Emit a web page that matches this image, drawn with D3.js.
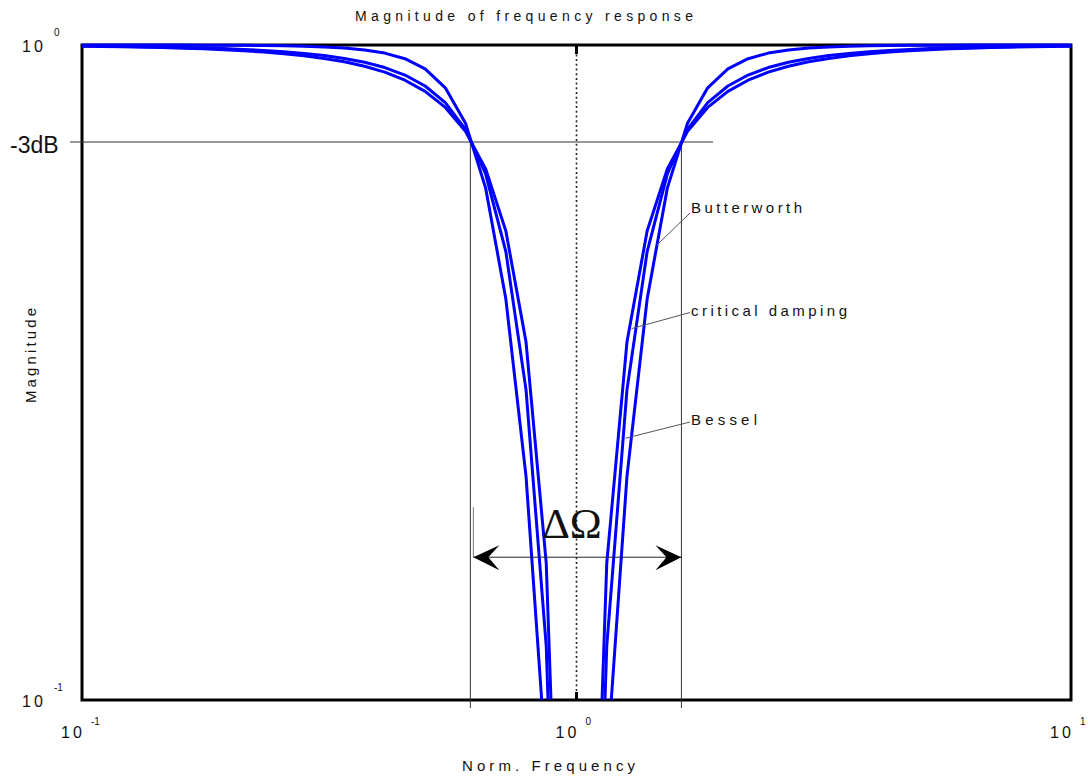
<!DOCTYPE html>
<html>
<head>
<meta charset="utf-8">
<script src="https://cdn.jsdelivr.net/npm/d3@7"></script>
<style>
  body { margin: 0; background: #fff; }
  text { font-family: Arial, "Liberation Sans", sans-serif; fill: #111; }
</style>
</head>
<body>
<svg id="chart" width="1088" height="776"></svg>
<script>
// normalised frequency samples (log spaced, 0.1 .. 10)
const freq = [0.1, 0.10985, 0.12068, 0.13257, 0.14563, 0.15999, 0.17575, 0.19307, 0.2121, 0.233,
  0.25595, 0.28118, 0.30888, 0.33932, 0.37276, 0.40949, 0.44984, 0.49417, 0.54287, 0.59636,
  0.65513, 0.71969, 0.7906, 0.86851, 0.9541, 1.04811, 1.1514, 1.26486, 1.38949, 1.52642,
  1.67684, 1.84207, 2.02359, 2.223, 2.44206, 2.68268, 2.94707, 3.2375, 3.55643, 3.90701,
  4.29185, 4.71475, 5.17947, 5.6899, 6.25039, 6.86672, 7.54318, 8.28638, 9.10332, 10];

const butterworth = [0.99995, 0.99992, 0.99989, 0.99983, 0.99976, 0.99964, 0.99946, 0.99919, 0.99879, 0.99816,
  0.9972, 0.99568, 0.99327, 0.98935, 0.98289, 0.97194, 0.95296, 0.9195, 0.86035, 0.75946,
  0.60464, 0.40933, 0.21944, 0.07977, 0.00884, 0.00884, 0.07977, 0.21944, 0.40933, 0.60464,
  0.75946, 0.86035, 0.9195, 0.95296, 0.97194, 0.98289, 0.98935, 0.99327, 0.99568, 0.9972,
  0.99816, 0.99879, 0.99919, 0.99946, 0.99964, 0.99976, 0.99983, 0.99989, 0.99992, 0.99995];

const criticalDamping = [0.99579, 0.99491, 0.99383, 0.99251, 0.99091, 0.98896, 0.98656, 0.98362, 0.97998, 0.97547,
  0.96986, 0.96282, 0.95393, 0.94258, 0.92797, 0.90887, 0.8836, 0.84956, 0.80295, 0.73811,
  0.64698, 0.51995, 0.35192, 0.16192, 0.02089, 0.02089, 0.16192, 0.35192, 0.51995, 0.64698,
  0.73811, 0.80295, 0.84956, 0.8836, 0.90887, 0.92797, 0.94258, 0.95393, 0.96282, 0.96986,
  0.97547, 0.97998, 0.98362, 0.98656, 0.98896, 0.99091, 0.99251, 0.99383, 0.99491, 0.99579];

const bessel = [0.99684, 0.99617, 0.99536, 0.99436, 0.99314, 0.99164, 0.98979, 0.9875, 0.98466, 0.98109,
  0.97659, 0.97086, 0.96348, 0.95383, 0.94104, 0.92372, 0.89977, 0.86581, 0.81645, 0.74337,
  0.63541, 0.48365, 0.29752, 0.12095, 0.0142, 0.0142, 0.12095, 0.29752, 0.48365, 0.63541,
  0.74337, 0.81645, 0.86581, 0.89977, 0.92372, 0.94104, 0.95383, 0.96348, 0.97086, 0.97659,
  0.98109, 0.98466, 0.9875, 0.98979, 0.99164, 0.99314, 0.99436, 0.99536, 0.99617, 0.99684];

const seriesNames = ["Butterworth", "critical damping", "Bessel"];
// point on each curve where the label's leader line ends [freq, magnitude]
const labelAnchors = [[1.454, 0.495], [1.293, 0.369], [1.257, 0.251]];

const bandEdges = [0.61, 1.63];
const minus3dB = 0.711;
const xTickValues = [0.1, 1, 10];
const xTickExp = ["-1", "0", "1"];
const yTickValues = [1, 0.1];
const yTickExp = ["0", "-1"];

const svg = d3.select("#chart");
const plot = {left: 82, right: 1071, top: 45, bottom: 700};

const x = d3.scaleLog().domain([0.1, 10]).range([plot.left, plot.right]);
const y = d3.scaleLog().domain([0.1, 1]).range([plot.bottom, plot.top]);

// frame
svg.append("rect")
  .attr("x", plot.left).attr("y", plot.top)
  .attr("width", plot.right - plot.left).attr("height", plot.bottom - plot.top)
  .attr("fill", "none").attr("stroke", "#000").attr("stroke-width", 3);

// -3dB guide and band edge lines
svg.append("line")
  .attr("x1", 70).attr("x2", 713)
  .attr("y1", y(minus3dB)).attr("y2", y(minus3dB))
  .attr("stroke", "#333").attr("stroke-width", 1);

svg.selectAll(".edge")
  .data(bandEdges)
  .join("line")
  .attr("class", "edge")
  .attr("x1", d => x(d)).attr("x2", d => x(d))
  .attr("y1", y(minus3dB)).attr("y2", plot.bottom + 8)
  .attr("stroke", "#333").attr("stroke-width", 1);

// centre frequency
svg.append("line")
  .attr("x1", x(1)).attr("x2", x(1))
  .attr("y1", plot.top).attr("y2", plot.bottom)
  .attr("stroke", "#222").attr("stroke-width", 1.6)
  .attr("stroke-dasharray", "2,2.7");
svg.append("line")
  .attr("x1", x(1)).attr("x2", x(1))
  .attr("y1", plot.top).attr("y2", plot.top + 9)
  .attr("stroke", "#000").attr("stroke-width", 3);
svg.append("line")
  .attr("x1", x(1)).attr("x2", x(1))
  .attr("y1", plot.bottom - 8).attr("y2", plot.bottom)
  .attr("stroke", "#000").attr("stroke-width", 3);

// curves
svg.append("clipPath").attr("id", "plotClip")
  .append("rect")
  .attr("x", plot.left - 2).attr("y", plot.top - 4)
  .attr("width", plot.right - plot.left + 3).attr("height", plot.bottom - plot.top + 3.5);

const line = d3.line()
  .x((d, i) => x(freq[i]))
  .y(d => y(d));

svg.append("g")
  .attr("clip-path", "url(#plotClip)")
  .selectAll("path")
  .data([butterworth, criticalDamping, bessel])
  .join("path")
  .attr("d", line)
  .attr("fill", "none")
  .attr("stroke", "#0000ff")
  .attr("stroke-width", 3)
  .attr("stroke-linejoin", "round");

// bandwidth arrow
const arrowY = y(0.1652);
const ax0 = x(bandEdges[0]) + 3, ax1 = x(bandEdges[1]);
svg.append("line")
  .attr("x1", ax0).attr("x2", ax0)
  .attr("y1", y(0.197)).attr("y2", arrowY)
  .attr("stroke", "#777").attr("stroke-width", 1);
svg.append("line")
  .attr("x1", ax0).attr("x2", ax1)
  .attr("y1", arrowY).attr("y2", arrowY)
  .attr("stroke", "#222").attr("stroke-width", 1);
svg.append("path")
  .attr("d", `M${ax0},${arrowY} L${ax0 + 26},${arrowY - 12} L${ax0 + 15},${arrowY} L${ax0 + 26},${arrowY + 13} Z`)
  .attr("fill", "#000");
svg.append("path")
  .attr("d", `M${ax1},${arrowY} L${ax1 - 26},${arrowY - 12} L${ax1 - 15},${arrowY} L${ax1 - 26},${arrowY + 13} Z`)
  .attr("fill", "#000");
svg.append("text")
  .attr("x", 572).attr("y", 538)
  .attr("text-anchor", "middle")
  .style("font-family", "'Liberation Serif', 'DejaVu Serif', serif")
  .style("font-size", "43px")
  .text("ΔΩ");

// curve labels with leader lines
const labelY = [213, 315.5, 425];
seriesNames.forEach((name, i) => {
  svg.append("line")
    .attr("x1", 690).attr("y1", labelY[i] - (i === 0 ? 0 : 3))
    .attr("x2", x(labelAnchors[i][0])).attr("y2", y(labelAnchors[i][1]))
    .attr("stroke", "#555").attr("stroke-width", 1);
  svg.append("text")
    .attr("x", 691).attr("y", labelY[i])
    .attr("textLength", [111, 156, 66][i])
    .attr("lengthAdjust", "spacing")
    .style("font-size", "15px")
    .text(name);
});

// tick labels
const xt = svg.selectAll(".xtick").data(xTickValues).join("g").attr("class", "xtick");
xt.append("text")
  .attr("x", d => x(d) - 21).attr("y", 738)
  .style("font-size", "16px").style("letter-spacing", "3px")
  .text("10");
xt.append("text")
  .attr("x", d => x(d) + 9).attr("y", 725)
  .style("font-size", "10px")
  .text((d, i) => xTickExp[i]);

const yt = svg.selectAll(".ytick").data(yTickValues).join("g").attr("class", "ytick");
yt.append("text")
  .attr("x", 22).attr("y", d => y(d) + 7)
  .style("font-size", "16px").style("letter-spacing", "3px")
  .text("10");
yt.append("text")
  .attr("x", 54).attr("y", d => y(d) - 9.5)
  .style("font-size", "10px")
  .text((d, i) => yTickExp[i]);

svg.append("text")
  .attr("x", 10).attr("y", y(minus3dB) + 11)
  .style("font-size", "23px")
  .text("-3dB");

// titles
svg.append("text")
  .attr("x", 355).attr("y", 21)
  .attr("textLength", 338).attr("lengthAdjust", "spacing")
  .style("font-size", "14px")
  .text("Magnitude of frequency response");
svg.append("text")
  .attr("x", 462).attr("y", 771)
  .attr("textLength", 173).attr("lengthAdjust", "spacing")
  .style("font-size", "15px")
  .text("Norm. Frequency");
svg.append("text")
  .attr("transform", "translate(36,403) rotate(-90)")
  .attr("textLength", 95).attr("lengthAdjust", "spacing")
  .style("font-size", "15px")
  .text("Magnitude");
</script>
</body>
</html>
